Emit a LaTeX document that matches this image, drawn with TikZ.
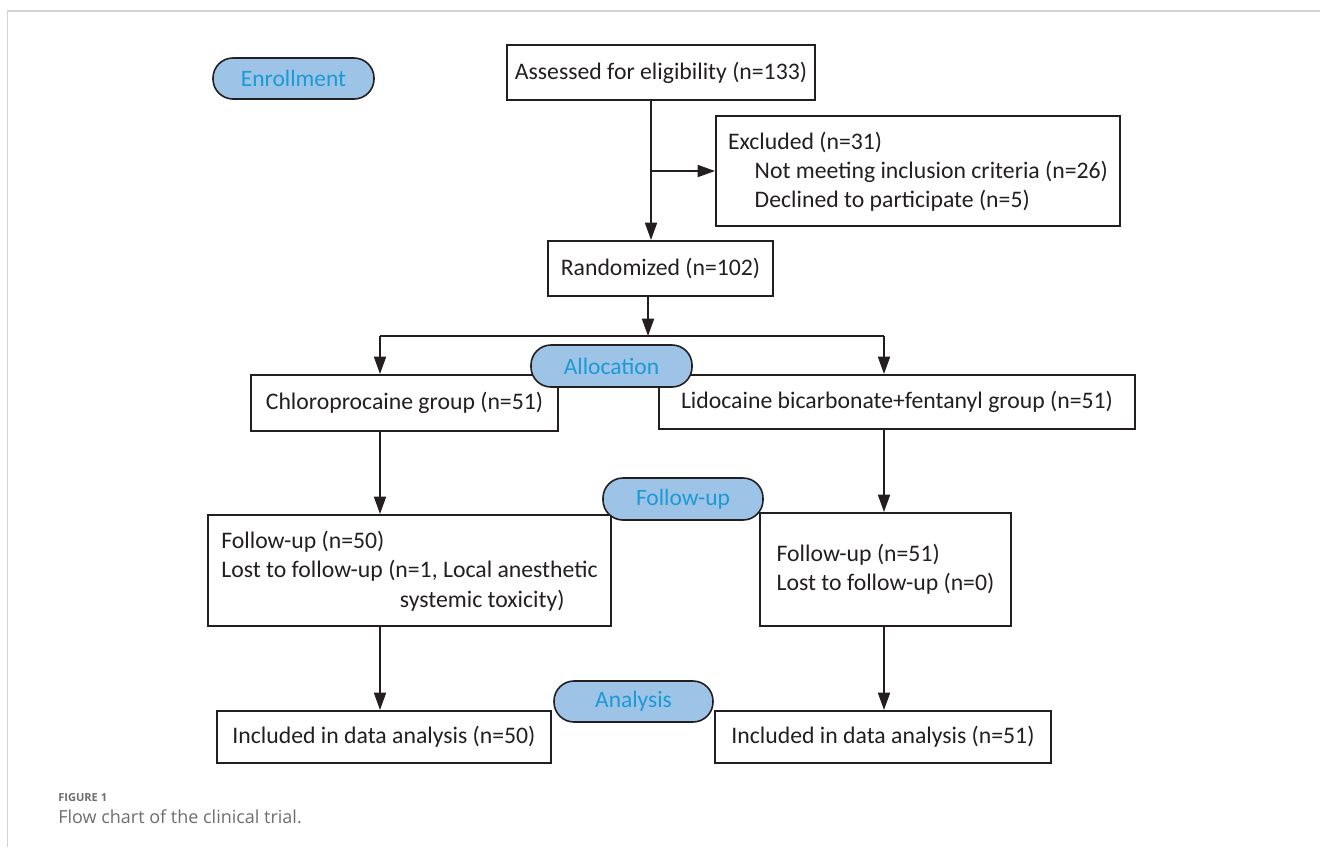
\documentclass[tikz,border=0pt]{standalone}
\usepackage{fontspec}
\setmainfont{Carlito}
\newfontfamily\capfont{Open Sans}
\usetikzlibrary{arrows.meta,calc}
\definecolor{pillfill}{HTML}{9DC3E6}
\definecolor{pilltext}{HTML}{1B9AD6}
\definecolor{inkc}{HTML}{231F20}
\definecolor{framec}{HTML}{D3D3D3}
\definecolor{capc}{HTML}{6D6E70}
\tikzset{
  box/.style={draw=inkc, line width=1.5pt, fill=white, text=inkc, align=left, inner sep=0pt,
    font=\fontsize{17.8}{21.8}\selectfont},
  pill/.style={draw=inkc, line width=1.2pt, fill=pillfill, text=pilltext, rounded corners=15pt,
    inner sep=0pt, font=\fontsize{17.6}{20}\selectfont},
  arr/.style={draw=inkc, line width=1.3pt, -{Triangle[length=13pt,width=9pt]}},
  ln/.style={draw=inkc, line width=1.3pt}
}
\begin{document}
\begin{tikzpicture}[x=0.75pt,y=-0.75pt]
\useasboundingbox (0,0) rectangle (1320,847);
% frame
\draw[framec, line width=1.2pt] (1320,11) -- (7.5,11) -- (7.5,847);
% boxes
\node[box, minimum width=231pt, minimum height=41.25pt] (assess) at (661,72.5) {Assessed for eligibility (n=133)};
\node[box, minimum width=303pt, minimum height=82.5pt] (excl) at (918,171)
  {\rule{0pt}{14pt}Excluded (n=31)\\\hspace*{20pt}Not meeting inclusion criteria (n=26)\\\hspace*{20pt}Declined to participate (n=5)};
\node[box, minimum width=168.75pt, minimum height=41.25pt] (rand) at (660.5,268.5) {Randomized (n=102)};
\node[box, minimum width=230.25pt, minimum height=42pt] (chloro) at (404.5,403) {Chloroprocaine group (n=51)};
\node[box, minimum width=357pt, minimum height=40.5pt] (lido) at (897,402) {Lidocaine bicarbonate+fentanyl group (n=51)};
\node[box, minimum width=302.25pt, minimum height=83.25pt] (fuL) at (409.5,570.5)
  {\rule{0pt}{14pt}Follow-up (n=50)\\Lost to follow-up (n=1, Local anesthetic\\\hspace*{134pt}systemic toxicity)};
\node[box, minimum width=188.25pt, minimum height=84.75pt] (fuR) at (885.5,569.5)
  {Follow-up (n=51)\\Lost to follow-up (n=0)};
\node[box, minimum width=250.5pt, minimum height=39pt] (incL) at (384,737) {Included in data analysis (n=50)};
\node[box, minimum width=252pt, minimum height=39pt] (incR) at (883,737) {Included in data analysis (n=51)};
% connectors
\coordinate (v) at (651,0);
\coordinate (split) at (648,336);
\coordinate (cL) at (380,336);
\coordinate (cR) at (884,336);
\draw[arr] (assess.south -| v) -- (rand.north -| v);
\draw[arr] (v |- excl.west) -- (excl.west);
\draw[arr] (rand.south -| split) -- (split);
\draw[ln] (cL) -- (cR);
\draw[arr] (cL) -- (chloro.north -| cL);
\draw[arr] (cR) -- (lido.north -| cR);
\draw[arr] (chloro.south -| cL) -- (fuL.north -| cL);
\draw[arr] (lido.south -| cR) -- (fuR.north -| cR);
\draw[arr] (fuL.south -| cL) -- (incL.north -| cL);
\draw[arr] (fuR.south -| cR) -- (incR.north -| cR);
% pills
\node[pill, minimum width=120.75pt, minimum height=30.75pt] (enroll) at (293.5,78.5) {Enrollment};
\node[pill, minimum width=120.75pt, minimum height=31.5pt] (alloc) at (611.5,366) {Allocation};
\node[pill, minimum width=120pt, minimum height=31.5pt] (follow) at (683,499) {Follow-up};
\node[pill, minimum width=119.25pt, minimum height=30.75pt] (analysis) at (633.5,701.5) {Analysis};
% caption
\node[anchor=base west, inner sep=0pt, text=capc, font=\capfont\bfseries\fontsize{8.3}{10}\selectfont] (figlab) at (58,801) {FIGURE 1};
\node[anchor=base west, inner sep=0pt, text=capc, font=\capfont\fontsize{13.5}{16}\selectfont] (figcap) at (58,823) {Flow chart of the clinical trial.};
\end{tikzpicture}
\end{document}
